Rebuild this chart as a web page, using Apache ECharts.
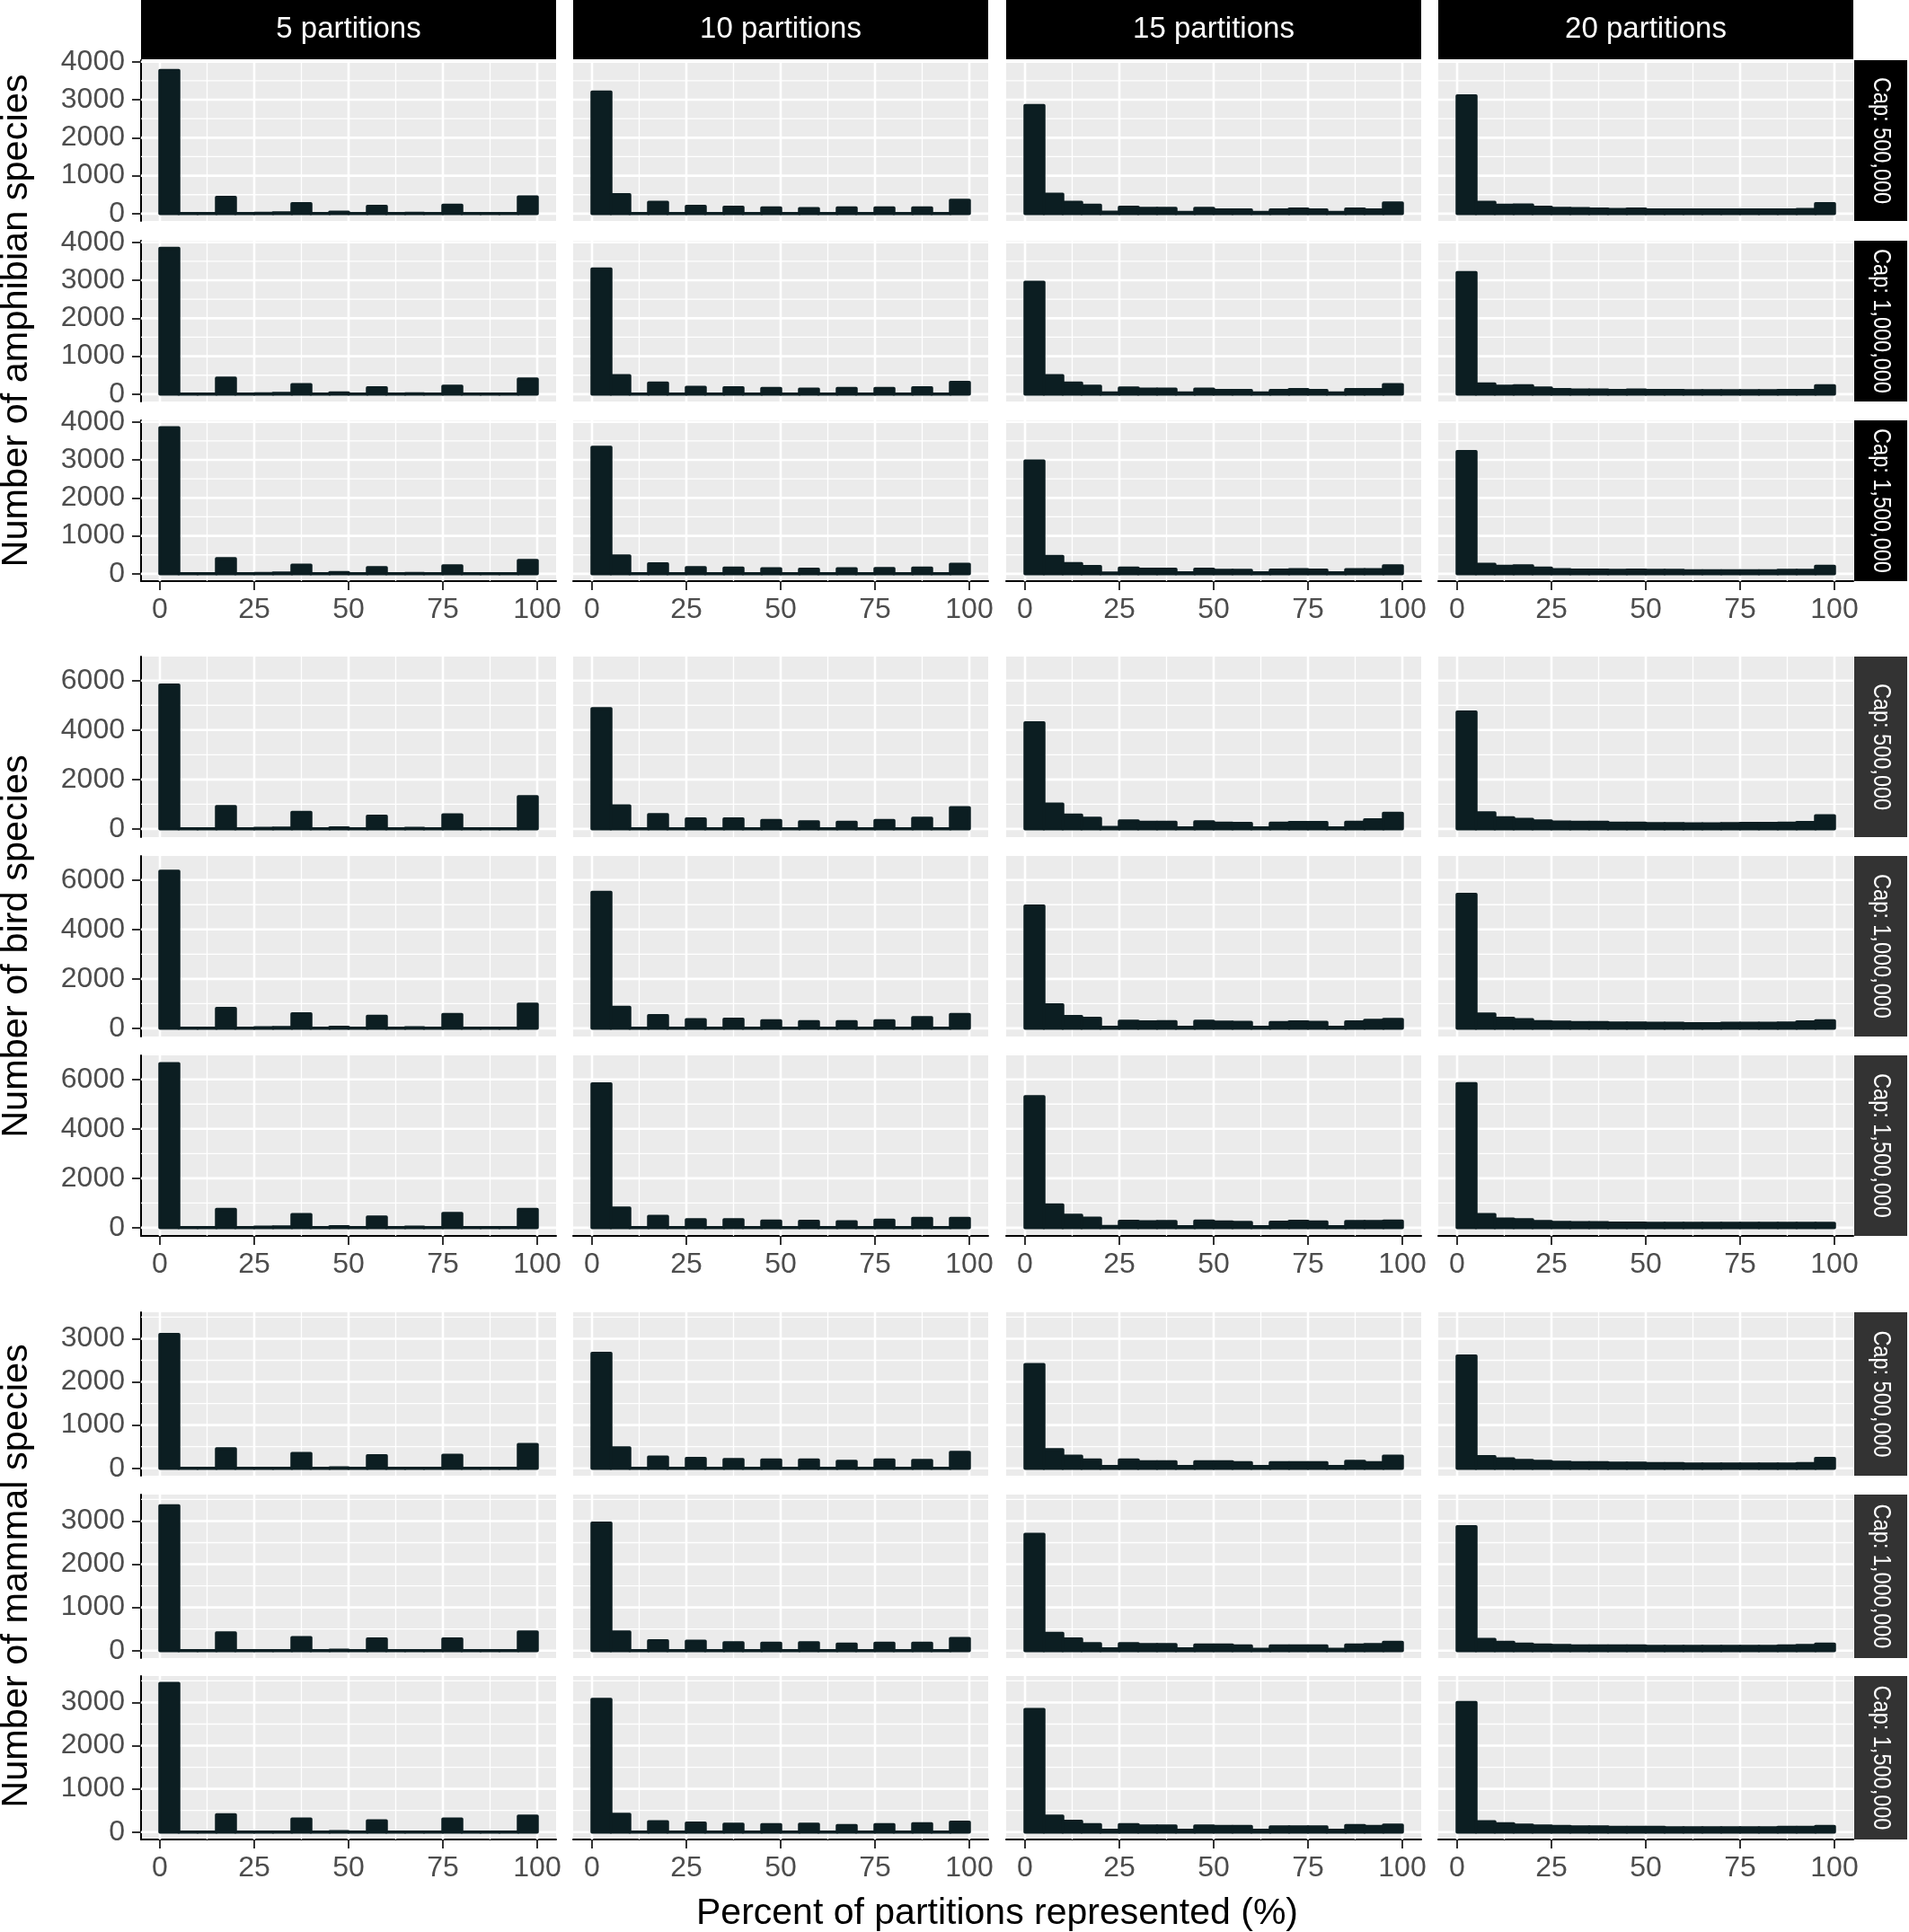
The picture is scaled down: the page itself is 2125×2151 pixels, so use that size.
<!DOCTYPE html>
<html>
<head>
<meta charset="utf-8">
<script src="https://cdn.jsdelivr.net/npm/echarts@6/dist/echarts.min.js"></script>
<style>
  html, body { margin: 0; padding: 0; background: #fff; }
  #chart { width: 2125px; height: 2151px; }
</style>
</head>
<body>
<div id="chart"></div>
<script>
// histogram bins: 20 bins of width 5 on 0..100 %
var binStarts = [0, 5, 10, 15, 20, 25, 30, 35, 40, 45, 50, 55, 60, 65, 70, 75, 80, 85, 90, 95];
var binWidth = 5;

var partitionLabels = ['5 partitions', '10 partitions', '15 partitions', '20 partitions'];
var capLabels = ['Cap: 500,000', 'Cap: 1,000,000', 'Cap: 1,500,000'];
var groupTitles = ['Number of amphibian species', 'Number of bird species', 'Number of mammal species'];
var xTitle = 'Percent of partitions represented (%)';

var xTicks = [0, 25, 50, 75, 100];
var xMinor = [12.5, 37.5, 62.5, 87.5];
var amphibYTicks = [0, 1000, 2000, 3000, 4000];
var amphibYMinor = [500, 1500, 2500, 3500];
var birdYTicks = [0, 2000, 4000, 6000];
var birdYMinor = [1000, 3000, 5000];
var mammalYTicks = [0, 1000, 2000, 3000];
var mammalYMinor = [500, 1500, 2500, 3500];

// counts per bin, one row per cap (500k, 1M, 1.5M)
var amphib5 = [
  [3770, 0, 0, 430, 0, 10, 20, 260, 0, 40, 0, 190, 0, 10, 0, 220, 0, 0, 0, 440],
  [3840, 0, 0, 420, 0, 10, 20, 250, 0, 30, 0, 170, 0, 10, 0, 210, 0, 0, 0, 400],
  [3850, 0, 0, 400, 0, 10, 20, 230, 0, 30, 0, 160, 0, 10, 0, 210, 0, 0, 0, 350]
];
var amphib10 = [
  [3200, 500, 0, 300, 0, 190, 0, 170, 0, 150, 0, 130, 0, 150, 0, 150, 0, 150, 0, 350],
  [3300, 490, 0, 290, 0, 180, 0, 170, 0, 150, 0, 130, 0, 150, 0, 150, 0, 170, 0, 310],
  [3330, 470, 0, 260, 0, 160, 0, 150, 0, 130, 0, 120, 0, 130, 0, 140, 0, 150, 0, 250]
];
var amphib15 = [
  [2850, 510, 300, 220, 40, 170, 140, 140, 30, 140, 100, 100, 30, 100, 120, 100, 30, 120, 100, 280],
  [2950, 490, 290, 210, 30, 160, 130, 130, 30, 130, 100, 100, 30, 100, 120, 100, 30, 120, 120, 250],
  [2970, 460, 270, 190, 20, 150, 120, 120, 25, 120, 90, 90, 25, 100, 110, 100, 25, 110, 110, 210]
];
var amphib20 = [
  [3100, 300, 220, 230, 170, 140, 130, 120, 110, 120, 100, 100, 100, 100, 100, 100, 100, 100, 110, 260],
  [3200, 270, 210, 220, 160, 120, 110, 110, 100, 110, 100, 100, 90, 90, 90, 90, 90, 100, 100, 220],
  [3220, 250, 200, 210, 150, 110, 100, 100, 90, 100, 90, 90, 80, 80, 80, 80, 80, 90, 90, 200]
];

var bird5 = [
  [5820, 0, 0, 900, 0, 20, 30, 670, 0, 40, 0, 510, 0, 20, 0, 570, 0, 0, 0, 1300],
  [6350, 0, 0, 800, 0, 20, 30, 590, 0, 40, 0, 490, 0, 20, 0, 560, 0, 0, 0, 980],
  [6640, 0, 0, 740, 0, 20, 30, 530, 0, 40, 0, 430, 0, 20, 0, 580, 0, 0, 0, 740]
];
var bird10 = [
  [4860, 930, 0, 580, 0, 400, 0, 400, 0, 340, 0, 290, 0, 270, 0, 340, 0, 430, 0, 860],
  [5500, 850, 0, 510, 0, 350, 0, 370, 0, 300, 0, 270, 0, 270, 0, 300, 0, 430, 0, 560],
  [5820, 790, 0, 460, 0, 320, 0, 320, 0, 270, 0, 260, 0, 240, 0, 300, 0, 380, 0, 380]
];
var bird15 = [
  [4290, 1000, 560, 430, 60, 320, 270, 270, 40, 290, 230, 220, 40, 230, 260, 260, 40, 270, 370, 630],
  [4950, 950, 480, 400, 40, 290, 260, 270, 40, 290, 250, 240, 40, 230, 260, 240, 40, 260, 320, 360],
  [5300, 920, 500, 390, 50, 260, 240, 250, 40, 270, 230, 210, 40, 220, 260, 230, 40, 250, 250, 270]
];
var bird20 = [
  [4730, 650, 450, 390, 320, 280, 270, 270, 230, 230, 210, 210, 200, 200, 210, 220, 220, 230, 260, 530],
  [5420, 580, 400, 350, 270, 250, 230, 230, 210, 210, 200, 200, 190, 190, 200, 200, 200, 210, 260, 300],
  [5830, 530, 350, 320, 250, 210, 200, 200, 190, 190, 180, 180, 180, 180, 180, 180, 180, 180, 180, 180]
];

var mammal5 = [
  [3100, 0, 0, 450, 0, 0, 0, 340, 0, 10, 0, 290, 0, 0, 0, 300, 0, 0, 0, 550],
  [3350, 0, 0, 410, 0, 0, 0, 300, 0, 10, 0, 270, 0, 0, 0, 270, 0, 0, 0, 430],
  [3440, 0, 0, 400, 0, 0, 0, 300, 0, 10, 0, 260, 0, 0, 0, 300, 0, 0, 0, 370]
];
var mammal10 = [
  [2660, 470, 0, 260, 0, 230, 0, 200, 0, 190, 0, 190, 0, 160, 0, 190, 0, 180, 0, 370],
  [2950, 430, 0, 230, 0, 220, 0, 180, 0, 170, 0, 180, 0, 150, 0, 170, 0, 170, 0, 280],
  [3070, 410, 0, 240, 0, 210, 0, 180, 0, 170, 0, 180, 0, 150, 0, 170, 0, 190, 0, 230]
];
var mammal15 = [
  [2400, 430, 280, 190, 40, 190, 150, 150, 40, 150, 150, 130, 40, 130, 130, 130, 40, 160, 130, 280],
  [2690, 400, 270, 160, 40, 160, 140, 140, 40, 130, 130, 110, 30, 110, 110, 110, 30, 130, 140, 190],
  [2840, 370, 250, 170, 40, 170, 140, 140, 40, 140, 130, 130, 40, 120, 120, 120, 40, 150, 130, 160]
];
var mammal20 = [
  [2600, 270, 220, 180, 160, 140, 130, 130, 120, 120, 110, 110, 100, 100, 100, 100, 100, 100, 110, 230],
  [2870, 260, 190, 150, 130, 120, 110, 110, 110, 110, 100, 100, 100, 100, 100, 100, 100, 110, 120, 150],
  [3000, 240, 190, 160, 140, 130, 120, 120, 110, 110, 110, 100, 100, 100, 100, 100, 100, 110, 110, 130]
];

var groups = [
  { counts: [amphib5, amphib10, amphib15, amphib20], yTicks: amphibYTicks, yMinor: amphibYMinor, stripColor: '#000000' },
  { counts: [bird5, bird10, bird15, bird20], yTicks: birdYTicks, yMinor: birdYMinor, stripColor: '#333333' },
  { counts: [mammal5, mammal10, mammal15, mammal20], yTicks: mammalYTicks, yMinor: mammalYMinor, stripColor: '#333333' }
];

// layout (px)
var colX = [157, 638, 1120, 1601];
var panelW = 462;
var rowTops = [[67, 268, 468], [731, 953, 1175], [1461, 1664, 1866]];
var panelH = [179, 201, 182];
var stripH = 66;
var rightStripX = 2064, rightStripW = 59;

var barColor = '#0C1E22';
var font = 'Liberation Sans, Arial, sans-serif';

function barRender(params, api) {
  var p0 = api.coord([api.value(0), 0]);
  var p1 = api.coord([api.value(2), api.value(1)]);
  return {
    type: 'rect',
    shape: { x: p0[0], y: p1[1], width: p1[0] - p0[0], height: p0[1] - p1[1] },
    style: { fill: barColor, stroke: barColor, lineWidth: 3.5, lineJoin: 'round' }
  };
}

function gridRender(params, api) {
  var cs = params.coordSys;
  var dir = api.value(2), major = api.value(3);
  var shape;
  if (dir === 0) {
    var x = api.coord([api.value(0), 0])[0];
    shape = { x1: x, y1: cs.y, x2: x, y2: cs.y + cs.height };
  } else {
    var y = api.coord([0, api.value(1)])[1];
    shape = { x1: cs.x, y1: y, x2: cs.x + cs.width, y2: y };
  }
  return { type: 'line', shape: shape, style: { stroke: '#FFFFFF', lineWidth: major ? 2.6 : 1.3 } };
}

var grids = [], xAxes = [], yAxes = [], series = [], graphics = [];

groups.forEach(function (grp, g) {
  var groupMax = 0;
  grp.counts.forEach(function (col) { col.forEach(function (row) { row.forEach(function (v) { if (v > groupMax) groupMax = v; }); }); });
  var yMin = -0.05 * groupMax, yMax = 1.05 * groupMax;

  var gridData = [];
  xMinor.forEach(function (v) { gridData.push([v, 0, 0, 0]); });
  grp.yMinor.forEach(function (v) { gridData.push([0, v, 1, 0]); });
  xTicks.forEach(function (v) { gridData.push([v, 0, 0, 1]); });
  grp.yTicks.forEach(function (v) { gridData.push([0, v, 1, 1]); });

  for (var r = 0; r < 3; r++) {
    for (var c = 0; c < 4; c++) {
      var idx = grids.length;
      var bottom = r === 2, left = c === 0;
      grids.push({ left: colX[c], top: rowTops[g][r], width: panelW, height: panelH[g],
        show: true, backgroundColor: '#EBEBEB', borderWidth: 0 });
      xAxes.push({
        gridIndex: idx, type: 'value', min: -5, max: 105,
        splitLine: { show: false },
        axisLine: { show: bottom, onZero: false, lineStyle: { color: '#000', width: 2 } },
        axisTick: { show: bottom, customValues: xTicks, length: 10, lineStyle: { color: '#333', width: 2 } },
        axisLabel: { show: bottom, customValues: xTicks, margin: 16, fontSize: 32, color: '#4D4D4D', fontFamily: font,
          formatter: function (v) { return String(v); } }
      });
      yAxes.push({
        gridIndex: idx, type: 'value', min: yMin, max: yMax,
        splitLine: { show: false },
        axisLine: { show: left, onZero: false, lineStyle: { color: '#000', width: 2 } },
        axisTick: { show: left, customValues: grp.yTicks, length: 10, lineStyle: { color: '#333', width: 2 } },
        axisLabel: { show: left, customValues: grp.yTicks, margin: 18, fontSize: 32, color: '#4D4D4D', fontFamily: font,
          formatter: function (v) { return String(Math.round(v)); } }
      });
      series.push({
        type: 'custom', xAxisIndex: idx, yAxisIndex: idx, silent: true, z: 1,
        renderItem: gridRender, data: gridData
      });
      var counts = grp.counts[c][r];
      series.push({
        type: 'custom', xAxisIndex: idx, yAxisIndex: idx, silent: true, z: 2,
        renderItem: barRender,
        data: binStarts.map(function (s, i) { return [s, counts[i], s + binWidth]; })
      });
      if (c === 3) {
        graphics.push({ type: 'rect', shape: { x: rightStripX, y: rowTops[g][r], width: rightStripW, height: panelH[g] },
          style: { fill: grp.stripColor } });
        graphics.push({ type: 'text', x: rightStripX + rightStripW / 2, y: rowTops[g][r] + panelH[g] / 2,
          rotation: -Math.PI / 2, scaleX: 0.84,
          style: { text: capLabels[r], fill: '#FFFFFF', fontSize: 28, fontFamily: font,
            align: 'center', verticalAlign: 'middle', textAlign: 'center', textVerticalAlign: 'middle' } });
      }
    }
  }

  // y axis title for the group
  var gTop = rowTops[g][0], gBottom = rowTops[g][2] + panelH[g];
  graphics.push({ type: 'text', x: 19, y: (gTop + gBottom) / 2, rotation: Math.PI / 2,
    style: { text: groupTitles[g], fill: '#000', fontSize: 41.5, fontFamily: font,
      align: 'center', verticalAlign: 'middle', textAlign: 'center', textVerticalAlign: 'middle' } });
});

// top strips
partitionLabels.forEach(function (lab, c) {
  graphics.push({ type: 'rect', shape: { x: colX[c], y: 0, width: panelW, height: stripH }, style: { fill: '#000' } });
  graphics.push({ type: 'text', x: colX[c] + panelW / 2, y: stripH / 2,
    style: { text: lab, fill: '#FFFFFF', fontSize: 33, fontFamily: font,
      align: 'center', verticalAlign: 'middle', textAlign: 'center', textVerticalAlign: 'middle' } });
});

// x axis title
graphics.push({ type: 'text', x: (colX[0] + colX[3] + panelW) / 2, y: 2131,
  style: { text: xTitle, fill: '#000', fontSize: 41, fontFamily: font,
    align: 'center', verticalAlign: 'middle', textAlign: 'center', textVerticalAlign: 'middle' } });

var chart = echarts.init(document.getElementById('chart'));
chart.setOption({
  animation: false,
  backgroundColor: '#FFFFFF',
  grid: grids,
  xAxis: xAxes,
  yAxis: yAxes,
  series: series,
  graphic: graphics
});
</script>
</body>
</html>
